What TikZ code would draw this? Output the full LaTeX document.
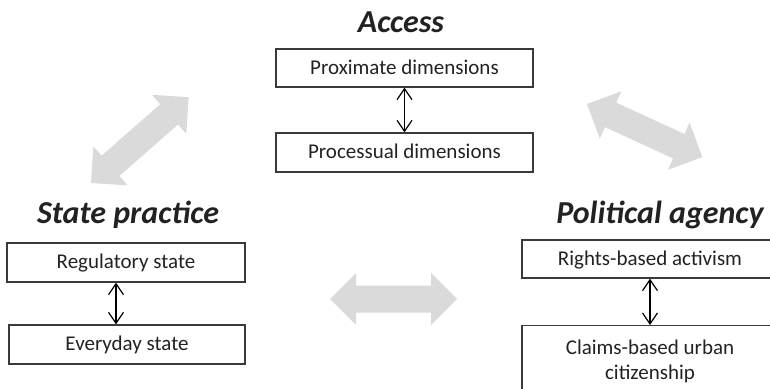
\documentclass[tikz,border=0pt]{standalone}
\usepackage{fontspec}
\setmainfont{Carlito}
\usetikzlibrary{arrows.meta}
\definecolor{fatgray}{HTML}{DADADA}
\definecolor{boxline}{HTML}{3A3A3A}
\definecolor{txt}{HTML}{222222}
\tikzset{
  box/.style={draw=boxline, line width=1.3pt, rectangle, inner sep=0pt,
    font=\fontsize{21}{25}\selectfont, text=txt, text height=15pt, text depth=3pt},
  ttl/.style={font=\fontsize{32}{36}\selectfont\bfseries\itshape, text=txt, anchor=base, inner sep=0pt},
  link/.style={draw=black, line width=1.2pt, {Straight Barb[length=11pt,width=15pt]}-{Straight Barb[length=11pt,width=15pt]}}
}
\newcommand\fatarrow[4]{%
  \begin{scope}[shift={(#1,#2)},rotate=#3]
    \fill[fatgray] (0,0) -- (26,-26) -- (26,-13.5) -- ({#4-26},-13.5) -- ({#4-26},-26) -- (#4,0)
      -- ({#4-26},26) -- ({#4-26},13.5) -- (26,13.5) -- (26,26) -- cycle;
  \end{scope}}
\begin{document}
\begin{tikzpicture}[x=1pt,y=-1pt]
\useasboundingbox (0,0) rectangle (770,388);
\clip (0,0) rectangle (770,388);
% titles
\node[ttl] (tacc) at (401,32) {Access};
\node[ttl] (tstate) at (128,223) {State practice};
\node[ttl] (tpol) at (660,223) {Political agency};
% access boxes
\node[box, minimum width=257pt, minimum height=38pt] (prox) at (404.5,68) {Proximate dimensions};
\node[box, minimum width=257pt, minimum height=39pt] (proc) at (404.5,152.5) {Processual dimensions};
\draw[link] (prox.south) -- (proc.north);
% state boxes
\node[box, minimum width=238pt, minimum height=39pt] (reg) at (126,262.5) {Regulatory state};
\node[box, minimum width=236pt, minimum height=39pt] (every) at (127,344.5) {Everyday state};
\draw[link] (reg.south -| 116,0) -- (every.north -| 116,0);
% political boxes
\node[box, minimum width=256pt, minimum height=38pt] (rights) at (650,259) {Rights-based activism};
\node[box, anchor=north, minimum width=256pt, minimum height=71pt, align=center, text height=, text depth=] (claims) at (650,325) {Claims-based urban\\citizenship};
\draw[link] (rights.south) -- (claims.north);
% fat grey arrows
\fatarrow{91}{183}{41.3}{130}
\fatarrow{587}{104}{-24.7}{127}
\fatarrow{330}{299}{0}{127}
\end{tikzpicture}
\end{document}
